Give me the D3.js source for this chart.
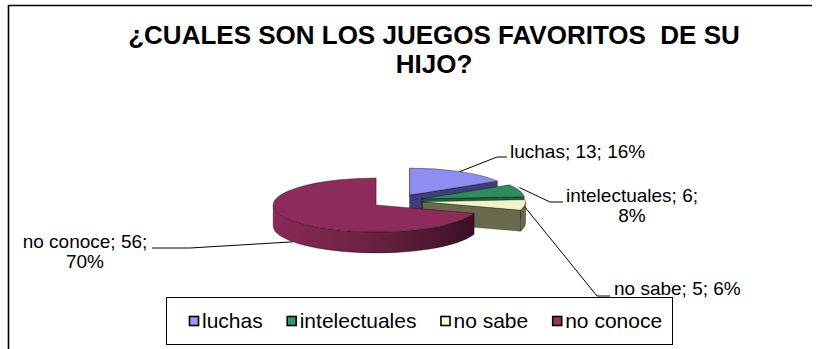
<!DOCTYPE html>
<html><head><meta charset="utf-8">
<script src="https://cdn.jsdelivr.net/npm/d3@7"></script>
<style>
html,body{margin:0;padding:0;background:#fff;}
svg{display:block;font-family:"Liberation Sans",Arial,sans-serif;}
</style></head>
<body>
<svg id="chart" width="820" height="349"></svg>
<script>
// ---- data ----
const categories = ["luchas", "intelectuales", "no sabe", "no conoce"];
const values = [13, 6, 5, 56];
const percents = ["16%", "8%", "6%", "70%"];
const titleLines = ["¿CUALES SON LOS JUEGOS FAVORITOS  DE SU", "HIJO?"];

// ---- style / layout ----
const topColors  = ["#8e8ef0", "#2f8b5b", "#f3f3c6", "#8d2b5a"];
const sideColors = ["#3e3e7c", "#1e5e3c", "#696a4d", "#6a2045"];
const legendColors = ["#9999ff", "#339966", "#ffffcc", "#993366"];

const svg = d3.select("#chart");
const defs = svg.append("defs");

// frame
svg.append("path").attr("d", "M8.5,349 V5.5 H812").attr("fill", "none")
  .attr("stroke", "#000").attr("stroke-width", 1.6);

// title
svg.append("g").selectAll("text").data(titleLines).join("text")
  .attr("x", 434).attr("y", (d, i) => 44 + i * 29)
  .attr("text-anchor", "middle").attr("font-weight", "bold")
  .attr("font-size", 26).attr("xml:space", "preserve").style("white-space", "pre")
  .attr("fill", "#000").text(d => d);

// pie geometry
const C = [397, 201], rx = 103, ry = 27, depth = 21, explode = 0.25;
const pie = d3.pie().sort(null).value(d => d)(values);
const pt = (c, a, dz = 0) => [c[0] + rx * Math.sin(a), c[1] - ry * Math.cos(a) + dz];
const centerOf = d => {
  const m = (d.startAngle + d.endAngle) / 2;
  return [C[0] + explode * rx * Math.sin(m), C[1] - explode * ry * Math.cos(m)];
};

// gradient for big side
const grad = defs.append("linearGradient").attr("id", "gSide")
  .attr("gradientUnits", "userSpaceOnUse").attr("x1", 270).attr("x2", 476).attr("y1", 0).attr("y2", 0);
grad.append("stop").attr("offset", "0%").attr("stop-color", "#8a2a58");
grad.append("stop").attr("offset", "55%").attr("stop-color", "#66203f");
grad.append("stop").attr("offset", "100%").attr("stop-color", "#3a0f24");

const gPie = svg.append("g");
const strokeC = "rgba(0,0,0,0.55)";
pie.forEach((d, i) => {
  const c = centerOf(d);
  const a0 = d.startAngle, a1 = d.endAngle;
  const g = gPie.append("g");
  const quad = (a) => {
    const p = pt(c, a), pd = pt(c, a, depth);
    return `M${c[0]},${c[1]} L${p[0]},${p[1]} L${pd[0]},${pd[1]} L${c[0]},${c[1] + depth} Z`;
  };
  // slight perspective strip on a wall facing straight back-left
  if (Math.abs(Math.sin(a0)) < 0.001 && a1 < Math.PI) {
    const p = pt(c, a0);
    g.append("path").attr("d", `M${p[0]},${p[1]} L${p[0] + 5},${p[1] + 4} L${c[0] + 5},${c[1] + depth * 0.5} L${c[0]},${c[1]} Z`)
      .attr("fill", sideColors[i]).attr("stroke", strokeC).attr("stroke-width", 0.6);
  }
  // radial walls
  if (Math.sin(a0) < -0.001) g.append("path").attr("d", quad(a0)).attr("fill", sideColors[i]).attr("stroke", strokeC).attr("stroke-width", 0.6);
  if (Math.sin(a1) > 0.001) g.append("path").attr("d", quad(a1)).attr("fill", sideColors[i]).attr("stroke", strokeC).attr("stroke-width", 0.6);
  // outer side
  const s = Math.max(a0, Math.PI / 2), e = Math.min(a1, 3 * Math.PI / 2);
  if (s < e) {
    const p1 = pt(c, s), p2 = pt(c, e), p3 = pt(c, e, depth), p4 = pt(c, s, depth);
    const large = (e - s) > Math.PI ? 1 : 0;
    g.append("path")
      .attr("d", `M${p1} A${rx},${ry} 0 ${large} 1 ${p2} L${p3} A${rx},${ry} 0 ${large} 0 ${p4} Z`)
      .attr("fill", i === 3 ? "url(#gSide)" : sideColors[i])
      .attr("stroke", strokeC).attr("stroke-width", 0.6);
  }
  // top face
  const q0 = pt(c, a0), q1 = pt(c, a1);
  const largeT = (a1 - a0) > Math.PI ? 1 : 0;
  g.append("path")
    .attr("d", `M${c} L${q0} A${rx},${ry} 0 ${largeT} 1 ${q1} Z`)
    .attr("fill", topColors[i]).attr("stroke", strokeC).attr("stroke-width", 0.6);
});

// labels with leader lines
const labelLayout = [
  { dy: 0,  elbow: [[497, 157], [507, 157]], x: 510, y: 158, anchor: "start",
    lines: () => [`${categories[0]}; ${values[0]}; ${percents[0]}`] },
  { dy: -3, elbow: [[550, 202], [563, 202]], x: 632, y: 202, anchor: "middle",
    lines: () => [`${categories[1]}; ${values[1]};`, percents[1]] },
  { dy: 2,  elbow: [[597, 296], [610, 296]], x: 614, y: 295, anchor: "start",
    lines: () => [`${categories[2]}; ${values[2]}; ${percents[2]}`] },
  { dy: 21, elbow: [[190, 248], [152, 248]], x: 85, y: 248, anchor: "middle",
    lines: () => [`${categories[3]}; ${values[3]};`, percents[3]] }
];
const gLab = svg.append("g");
pie.forEach((d, i) => {
  const L = labelLayout[i];
  const m = (d.startAngle + d.endAngle) / 2;
  const a = pt(centerOf(d), m, L.dy);
  gLab.append("path").attr("d", d3.line()([a, ...L.elbow]))
    .attr("fill", "none").attr("stroke", "#000").attr("stroke-width", 1);
  gLab.append("g").selectAll("text").data(L.lines()).join("text")
    .attr("x", L.x).attr("y", (t, j) => L.y + j * 20)
    .attr("text-anchor", L.anchor).attr("font-size", 19).attr("fill", "#000")
    .attr("xml:space", "preserve").style("white-space", "pre").text(t => t);
});

// legend
const lg = svg.append("g");
lg.append("rect").attr("x", 166.5).attr("y", 297.5).attr("width", 506).attr("height", 47)
  .attr("fill", "#fff").attr("stroke", "#000").attr("stroke-width", 1);
let lx = 189;
categories.forEach((c, i) => {
  lg.append("rect").attr("x", lx + 0.5).attr("y", 316.5).attr("width", 9).attr("height", 9)
    .attr("fill", legendColors[i]).attr("stroke", "#000").attr("stroke-width", 1.6);
  const t = lg.append("text").attr("x", lx + 13).attr("y", 328).attr("font-size", 21)
    .attr("fill", "#000").text(c);
  lx += 13 + t.node().getComputedTextLength() + 24;
});
</script>
</body></html>
